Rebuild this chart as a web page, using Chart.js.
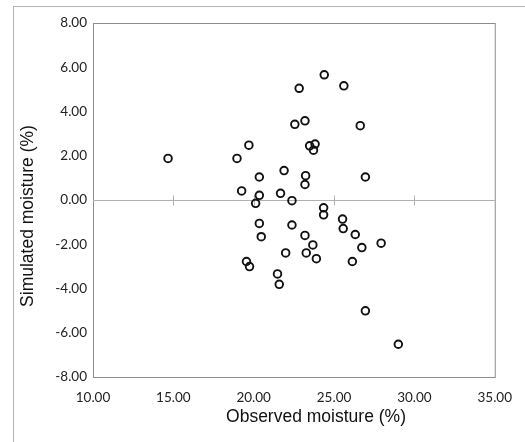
<!DOCTYPE html>
<html>
<head>
<meta charset="utf-8">
<script src="https://cdn.jsdelivr.net/npm/chart.js@4/dist/chart.umd.min.js"></script>
<style>
    html, body { margin: 0; padding: 0; background: #fff; overflow: hidden; }
    #wrap { position: relative; width: 525px; height: 442px; }
    #frame { position: absolute; left: 13px; top: 6px; width: 600px; height: 500px; border: 1px solid #b4b4b4; }
    canvas { position: absolute; left: 0; top: 0; }
</style>
</head>
<body>
<div id="wrap">
    <div id="frame"></div>
    <canvas id="chart" width="525" height="442"></canvas>
</div>
<script>
// Datos
const observedMoisture = [
    14.67, 18.96, 19.70, 19.25, 20.35, 20.35, 20.12, 20.35, 20.47, 19.55, 19.74,
    21.89, 21.67, 22.38, 22.38, 21.99, 21.48, 21.59, 22.83, 22.56, 23.19, 23.23,
    23.19, 23.19, 23.27, 23.68, 23.90, 23.48, 23.82, 23.72, 24.39, 24.35, 24.35,
    25.61, 25.53, 25.57, 26.32, 26.14, 26.73, 26.63, 26.95, 26.95, 27.93, 29.00
];
const simulatedMoisture = [
    1.88, 1.88, 2.48, 0.41, 1.04, 0.21, -0.15, -1.06, -1.66, -2.78, -3.01,
    1.33, 0.30, -0.03, -1.13, -2.39, -3.34, -3.81, 5.05, 3.42, 3.58, 1.10,
    0.70, -1.60, -2.39, -2.03, -2.65, 2.45, 2.53, 2.25, 5.66, -0.35, -0.67,
    5.16, -0.86, -1.29, -1.56, -2.78, -2.15, 3.36, 1.04, -5.01, -1.95, -6.52
];

// Ejes
const xRange = { min: 10, max: 35, step: 5 };
const yRange = { min: -8, max: 8, step: 2 };
const zeroLineTicks = [15, 20, 25, 30];
const xTitle = 'Observed moisture (%)';
const yTitle = 'Simulated moisture (%)';

const points = observedMoisture.map((x, i) => ({ x: x, y: simulatedMoisture[i] }));

// Marco del área de trazado, línea del cero y títulos
const plotDecor = {
    id: 'plotDecor',
    beforeDatasetsDraw(chart) {
        const { ctx, chartArea, scales } = chart;
        ctx.save();
        ctx.strokeStyle = '#8c8c8c';
        ctx.lineWidth = 1;
        ctx.strokeRect(chartArea.left + 0.5, chartArea.top + 0.5,
            chartArea.right - chartArea.left, chartArea.bottom - chartArea.top);

        const y0 = Math.round(scales.y.getPixelForValue(0)) + 0.5;
        ctx.strokeStyle = '#b0b0b0';
        ctx.beginPath();
        ctx.moveTo(chartArea.left, y0);
        ctx.lineTo(chartArea.right, y0);
        zeroLineTicks.forEach(v => {
            const px = Math.round(scales.x.getPixelForValue(v)) + 0.5;
            ctx.moveTo(px, y0 - 5);
            ctx.lineTo(px, y0 + 5);
        });
        ctx.stroke();
        ctx.restore();
    },
    afterDraw(chart) {
        const { ctx } = chart;
        ctx.save();
        ctx.fillStyle = '#111';
        ctx.font = '17.5px "Liberation Sans", Arial, sans-serif';
        ctx.textAlign = 'center';
        ctx.textBaseline = 'middle';
        ctx.fillText(xTitle, 316, 417);
        ctx.translate(28, 216);
        ctx.rotate(-Math.PI / 2);
        ctx.fillText(yTitle, 0, 0);
        ctx.restore();
    }
};

const tickFont = { family: 'Lato, "Open Sans", sans-serif', size: 13.5 };

new Chart(document.getElementById('chart').getContext('2d'), {
    type: 'scatter',
    data: {
        datasets: [{
            data: points,
            pointRadius: 3.8,
            pointHoverRadius: 3.8,
            pointBorderWidth: 1.9,
            pointBorderColor: '#111',
            pointBackgroundColor: 'rgba(255,255,255,0)'
        }]
    },
    options: {
        responsive: false,
        animation: false,
        layout: { padding: { top: 23, right: 20, bottom: 0, left: 0 } },
        plugins: {
            legend: { display: false },
            tooltip: { enabled: false }
        },
        scales: {
            x: {
                min: xRange.min,
                max: xRange.max,
                grid: { display: false, drawTicks: false },
                border: { display: false },
                ticks: {
                    stepSize: xRange.step,
                    padding: 13,
                    color: '#222',
                    font: tickFont,
                    maxRotation: 0,
                    callback: v => v.toFixed(2)
                },
                afterFit: scale => { scale.height = 65; }
            },
            y: {
                min: yRange.min,
                max: yRange.max,
                grid: { display: false, drawTicks: false },
                border: { display: false },
                ticks: {
                    stepSize: yRange.step,
                    padding: 6,
                    color: '#222',
                    font: tickFont,
                    callback: v => v.toFixed(2)
                },
                afterFit: scale => { scale.width = 93; }
            }
        }
    },
    plugins: [plotDecor]
});
</script>
</body>
</html>
